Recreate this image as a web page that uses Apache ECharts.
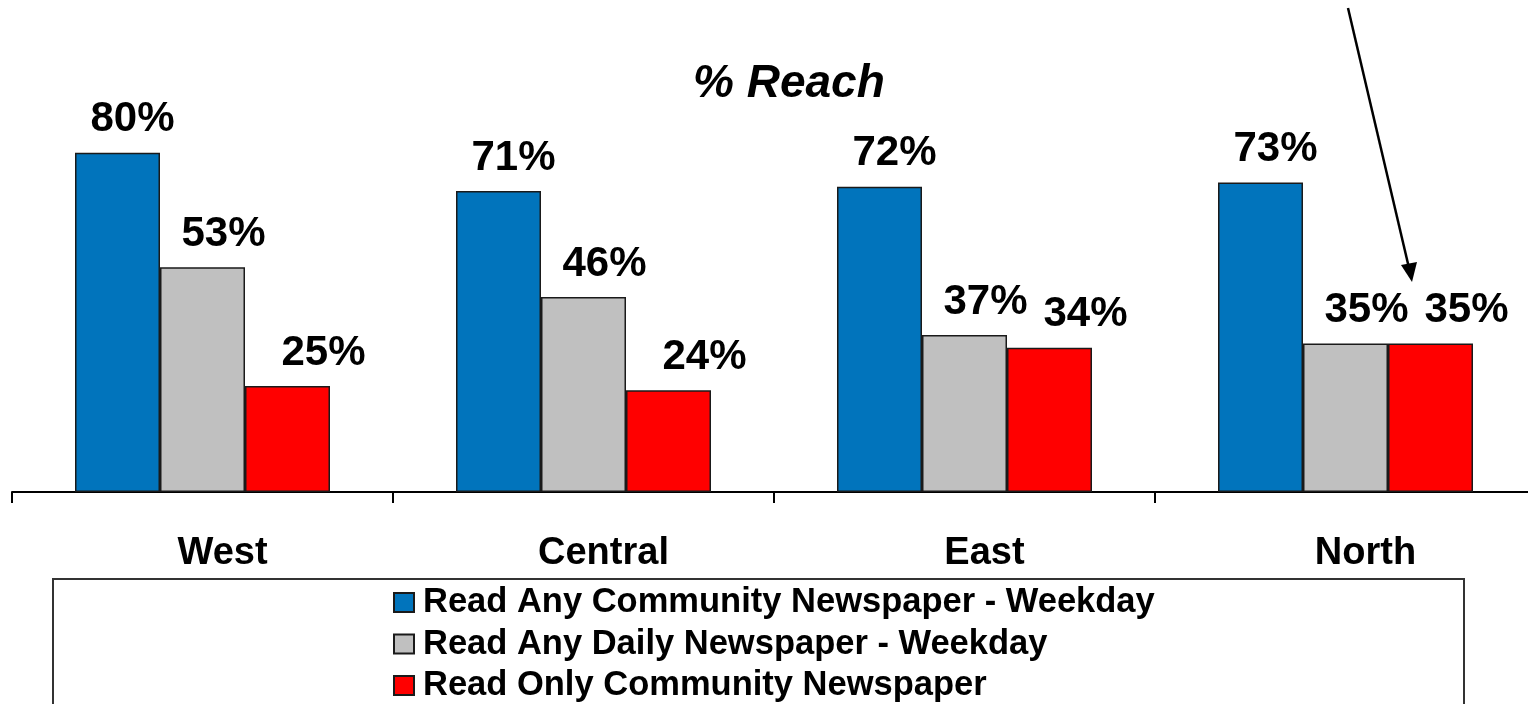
<!DOCTYPE html>
<html>
<head>
<meta charset="utf-8">
<script src="https://cdn.jsdelivr.net/npm/echarts@6/dist/echarts.min.js"></script>
<style>
html,body{margin:0;padding:0;background:#fff;}
#chart{width:1528px;height:704px;}
</style>
</head>
<body>
<div id="chart"></div>
<script>
// ---- data ----
var categories = ['West', 'Central', 'East', 'North'];
var seriesNames = [
  'Read Any Community Newspaper - Weekday',
  'Read Any Daily Newspaper - Weekday',
  'Read Only Community Newspaper'
];
var communityWeekday = [80, 71, 72, 73];
var dailyWeekday = [53, 46, 37, 35];
var onlyCommunity = [25, 24, 34, 35];
var titleText = '% Reach';

var FONT = '"Liberation Sans", Arial, Helvetica, sans-serif';
var colors = ['#0174BC', '#C0C0C0', '#FF0000'];
var labelOffsets = [[15, 0], [21, 0], [36, 0]];
var seriesData = [communityWeekday, dailyWeekday, onlyCommunity];

var chart = echarts.init(document.getElementById('chart'), null, {renderer: 'canvas'});

var series = seriesData.map(function (d, i) {
  return {
    name: seriesNames[i],
    type: 'bar',
    data: d,
    barWidth: 85,
    barGap: '0%',
    itemStyle: { color: colors[i], borderColor: '#1a1a1a', borderWidth: 1.5 },
    label: {
      show: true,
      position: 'top',
      distance: 12,
      offset: labelOffsets[i],
      formatter: '{c}%',
      color: '#000',
      fontFamily: FONT,
      fontWeight: 'bold',
      fontSize: 42
    },
    emphasis: { disabled: true },
    animation: false
  };
});

var option = {
  animation: false,
  backgroundColor: '#fff',
  title: {
    text: titleText,
    left: 693,
    top: 61,
    padding: 0,
    textStyle: {
      fontFamily: FONT,
      fontStyle: 'italic',
      fontWeight: 'bold',
      fontSize: 46,
      color: '#000'
    }
  },
  grid: { left: 12, top: 68, width: 1524, bottom: 212, containLabel: false, outerBoundsMode: 'none' },
  xAxis: {
    type: 'category',
    data: categories,
    axisLine: { show: true, lineStyle: { color: '#000', width: 2 } },
    axisTick: { show: true, length: 11, lineStyle: { color: '#000', width: 2 } },
    axisLabel: {
      margin: 43,
      padding: [0, 0, 0, 40],
      color: '#000',
      fontFamily: FONT,
      fontWeight: 'bold',
      fontSize: 38
    }
  },
  yAxis: {
    type: 'value',
    min: 0,
    max: 100,
    show: false,
    splitLine: { show: false }
  },
  legend: {
    orient: 'vertical',
    left: 393,
    top: 585,
    padding: 0,
    itemGap: 6.5,
    itemWidth: 20,
    itemHeight: 19,
    icon: 'rect',
    selectedMode: false,
    data: seriesNames,
    textStyle: {
      color: '#000',
      fontFamily: FONT,
      fontWeight: 'bold',
      fontSize: 34.5,
      padding: [0, 0, 0, 4]
    }
  },
  graphic: [
    {
      type: 'rect',
      silent: true,
      z: -1,
      shape: { x: 53, y: 579, width: 1411, height: 200 },
      style: { fill: 'none', stroke: '#333', lineWidth: 2 }
    },
    {
      type: 'line',
      silent: true,
      shape: { x1: 1348, y1: 8, x2: 1409, y2: 268 },
      style: { stroke: '#000', lineWidth: 2.5 }
    },
    {
      type: 'polygon',
      silent: true,
      shape: { points: [[1412, 282], [1401, 265], [1417, 262]] },
      style: { fill: '#000' }
    }
  ],
  series: series
};

chart.setOption(option);
</script>
</body>
</html>
